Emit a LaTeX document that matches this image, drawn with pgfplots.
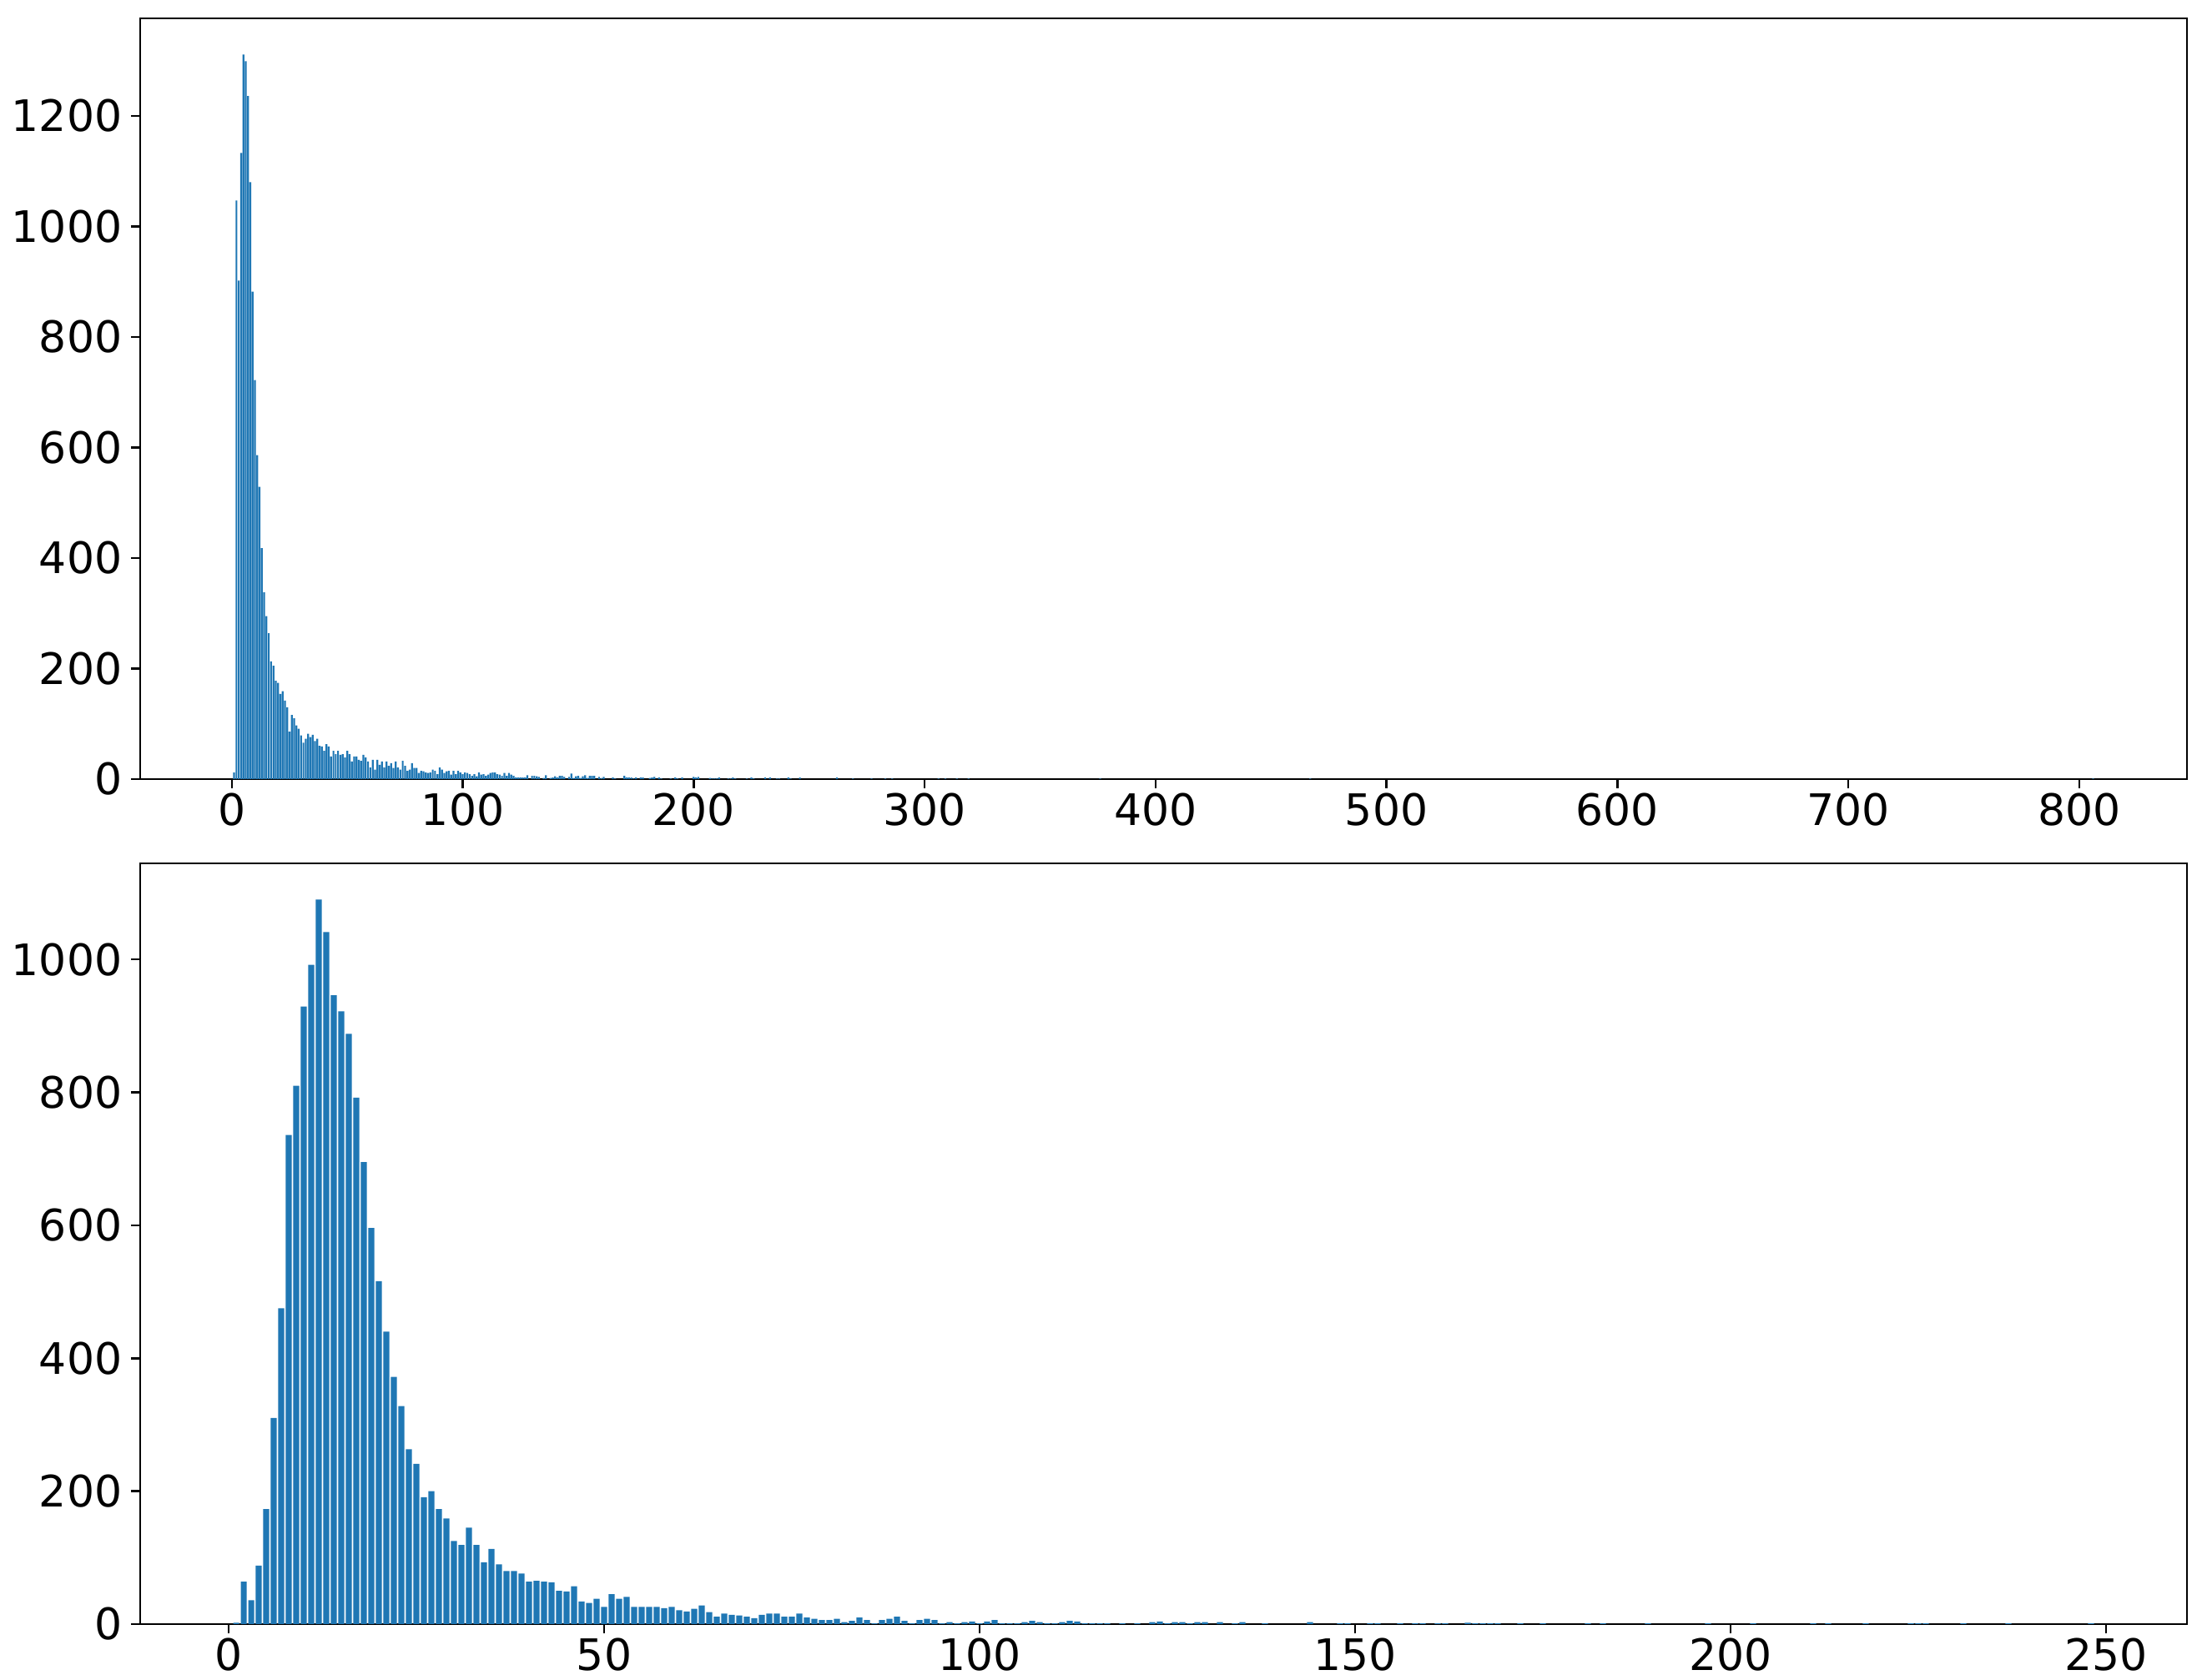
\documentclass[border=0pt]{standalone}
\usepackage{fontspec}
\setmainfont{DejaVu Sans}
\usepackage{pgfplots}
\pgfplotsset{compat=1.18}
\definecolor{c0}{RGB}{31,119,180}

\pgfplotsset{
  histstyle/.style={
    scale only axis,
    width=613.25bp, height=228bp,
    anchor=south west,
    ybar, bar width=0.8,
    ymin=0,
    axis line style={line width=0.625bp, black},
    tick align=outside, tick pos=left,
    major tick length=2.75bp,
    every tick/.style={line width=0.625bp, black},
    /pgf/number format/assume math mode=true,
    /pgf/number format/1000 sep={},
    tick label style={font=\fontsize{13bp}{15.6bp}\selectfont},
    yticklabel style={inner sep=0pt, xshift=-2.5bp},
    xticklabel style={inner sep=0pt, yshift=-1.2bp},
    scaled ticks=false,
  }
}

\begin{document}
\begin{tikzpicture}
\path[use as bounding box] (-42bp,-16.75bp) rectangle (617.75bp,486.75bp);

% ---------------- top histogram ----------------
\begin{axis}[histstyle, at={(0bp,253.25bp)},
  xmin=-39.69, xmax=846.69, ymax=1376.55,
  xtick={0,100,...,800}, ytick={0,200,...,1200}]
\addplot[fill=c0, draw=none] table {
x y
1 12
2 1047
3 902
4 1133
5 1311
6 1299
7 1236
8 1080
9 882
10 722
11 586
12 529
13 418
14 338
15 295
16 264
17 213
18 205
19 178
20 174
21 154
22 159
23 142
24 130
25 86
26 116
27 110
28 97
29 91
30 79
31 66
32 73
33 82
34 76
35 80
36 69
37 73
38 60
39 59
40 51
41 63
42 59
43 41
44 51
45 45
46 51
47 44
48 45
49 39
50 51
51 45
52 32
53 41
54 41
55 35
56 33
57 44
58 39
59 32
60 21
61 35
62 17
63 35
64 26
65 32
66 21
67 32
68 24
69 29
70 20
71 32
72 21
73 17
74 33
75 24
76 15
77 17
78 29
79 20
80 20
81 11
82 15
83 14
84 12
85 11
86 12
87 17
88 15
89 9
90 21
91 17
92 11
93 14
94 15
95 8
96 15
97 9
98 15
99 12
100 9
101 12
102 11
103 9
104 6
105 9
106 5
107 12
108 8
109 9
110 6
111 8
112 11
113 12
114 12
115 9
116 8
117 6
118 11
119 6
120 11
121 8
122 6
123 3
124 3
125 3
126 3
127 3
128 7
130 6
131 6
132 5
133 4
135 2
136 7
138 2
139 3
140 5
141 3
142 6
143 6
144 4
146 4
147 10
148 2
149 5
150 6
151 2
152 5
153 7
154 2
155 6
156 6
157 6
159 4
160 2
161 4
165 3
166 1
170 6
171 3
172 3
173 3
174 1
175 3
177 3
178 3
181 2
182 3
183 4
185 3
186 1
190 1
192 3
193 1
195 3
200 4
201 3
202 4
207 2
208 1
209 1
210 1
211 3
215 1
216 1
217 3
218 1
223 1
225 3
226 1
231 3
233 3
236 1
237 1
241 3
242 1
246 3
262 3
269 1
277 1
283 1
286 1
306 1
309 1
314 1
319 1
376 1
467 1
806 1
};
\end{axis}

% ---------------- bottom histogram ----------------
\begin{axis}[histstyle, at={(0bp,0bp)},
  xmin=-11.79, xmax=260.79, ymax=1144.5,
  xtick={0,50,...,250}, ytick={0,200,...,1000}]
\addplot[fill=c0, draw=none] table {
x y
1 2
2 64
3 36
4 88
5 173
6 310
7 475
8 736
9 810
10 929
11 992
12 1090
13 1041
14 946
15 922
16 888
17 792
18 695
19 596
20 516
21 440
22 372
23 328
24 263
25 241
26 191
27 200
28 173
29 159
30 125
31 119
32 145
33 119
34 93
35 113
36 90
37 80
38 80
39 76
40 64
41 65
42 64
43 63
44 50
45 49
46 57
47 34
48 32
49 38
50 26
51 45
52 38
53 41
54 26
55 26
56 26
57 26
58 24
59 26
60 21
61 19
62 23
63 28
64 18
65 11
66 16
67 14
68 13
69 11
70 9
71 14
72 16
73 16
74 11
75 11
76 16
77 10
78 8
79 6
80 6
81 8
82 3
83 5
84 10
85 6
86 1
87 6
88 8
89 11
90 5
91 1
92 6
93 8
94 6
95 1
96 3
97 1
98 3
99 4
100 1
101 4
102 6
103 1
104 1
105 1
106 3
107 5
108 3
109 1
110 1
111 3
112 5
113 4
114 1
115 1
116 1
117 1
119 1
121 1
123 3
124 4
125 1
126 3
127 3
128 1
129 3
130 3
132 3
134 1
135 3
138 1
144 3
148 1
149 1
152 1
153 1
156 1
158 1
159 1
161 1
162 1
165 2
166 1
167 1
168 1
169 1
172 1
175 1
181 1
183 1
189 1
197 1
203 1
211 1
213 1
218 1
224 1
225 1
226 1
231 1
237 1
248 1
};
\end{axis}
\end{tikzpicture}
\end{document}
